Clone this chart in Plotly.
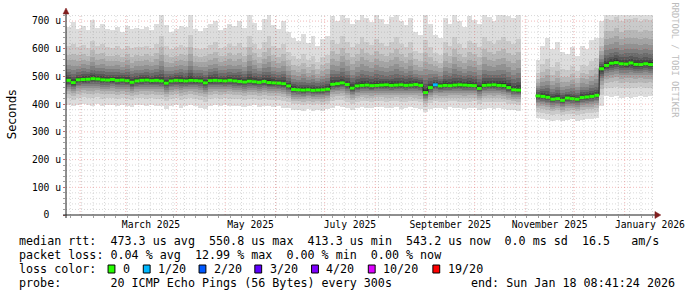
import plotly.graph_objects as go
from datetime import datetime, timedelta

# ---------------- data ----------------
END_TIME = datetime(2026, 1, 18, 8, 41, 24)
SPAN_DAYS = 360
STEP_DAYS = 3
START_TIME = END_TIME - timedelta(days=SPAN_DAYS)

# median RTT per 3-day bin (microseconds); None = no data
rtt_median = [
    486, 478, 488, 489, 490, 492, 491, 488, 487, 489,
    486, 487, 485, 479, 484, 486, 487, 485, 486, 484,
    476, 484, 486, 485, 484, 486, 485, 484, 477, 485,
    486, 485, 484, 486, 484, 482, 480, 483, 481, 479,
    482, 478, 477, 476, 474,
    466,
    453, 452, 451, 452, 450, 451, 452, 454,
    472, 474, 477, 471, 458, 466,
    468, 469, 467, 468, 469, 470, 468, 469, 470, 468, 469, 471, 468,
    442, 460, 470,
    466, 468, 467, 469, 470, 469, 468, 467,
    457,
    468, 469, 470, 468, 467,
    460, 452, 451,
    None, None, None,
    430, 428, 425, 418, 420, 414, 422, 420, 418, 424, 426, 428, 432,
    528, 540,
    548, 550, 546, 545, 549, 544, 543, 546, 543,
]

# lowest ping (bottom of the smoke) per bin
smoke_low = [
    398, 392, 396, 400, 397, 395, 399, 394, 396, 398,
    393, 397, 395, 390, 396, 398, 394, 397, 392, 395,
    384, 393, 396, 386, 395, 398, 394, 388, 383, 394,
    396, 393, 397, 395, 392, 394, 390, 393, 396, 391,
    394, 392, 390, 392, 388,
    385,
    378, 380, 375, 382, 377, 380, 376, 381,
    388, 392, 390, 385, 380, 387,
    390, 388, 386, 391, 389, 385, 388, 390, 384, 387, 389, 386, 383,
    372, 382,
    388, 386, 384, 389, 387, 385, 383, 386, 388,
    380, 384, 386, 382, 385, 383, 378, 380, 376,
    None, None, None,
    350, 346, 343, 340, 344, 338, 342, 345, 340, 343, 347, 345, 350,
    395,
    428, 425, 430, 424, 427, 422, 426, 430, 425, 428,
]

# highest ping (top of the smoke) per bin
smoke_high = [
    680, 695, 672, 684, 668, 705, 676, 690, 672, 668,
    678, 660, 682, 670, 676, 672, 680, 668, 690, 740,
    686, 662, 672, 684, 678, 740, 670, 664, 676, 688,
    702, 668, 674, 690, 682, 700, 676, 740, 694, 668,
    706, 740, 686, 672, 700,
    660,
    640, 628, 652, 620, 645, 610, 635, 648,
    720, 700, 740, 710, 690, 705,
    740, 712, 698, 730, 706, 690, 715, 740, 700, 685, 710, 660, 650,
    740, 690,
    650, 640, 710, 690, 740, 700, 680, 720, 705,
    690, 740, 715, 700, 725, 740, 720, 710, 740,
    None, None, None,
    560, 610, 640, 600, 625, 590, 580, 605, 575, 610, 600, 630, 640,
    700,
    800, 790, 810, 785, 800, 795, 805, 790, 800, 795,
]

# pings lost (of 20) per bin
loss_pings = [0] * len(rtt_median)
loss_pings[75] = 1

# fraction of the median->extreme distance reached by each sorted ping
UPPER_PROFILE = [0.03, 0.06, 0.10, 0.15, 0.21, 0.28, 0.37, 0.48, 0.64, 1.0]  # ping 11..20
LOWER_PROFILE = [0.04, 0.08, 0.13, 0.19, 0.26, 0.34, 0.44, 0.56, 0.72, 1.0]  # ping 10..1

y_tick_values = [0, 100, 200, 300, 400, 500, 600, 700]
y_tick_text = ["0\u00a0\u00a0", "100\u00a0u", "200\u00a0u", "300\u00a0u", "400\u00a0u",
               "500\u00a0u", "600\u00a0u", "700\u00a0u"]
x_label_dates = [datetime(2025, 3, 16, 12), datetime(2025, 5, 16, 12), datetime(2025, 7, 16, 12),
                 datetime(2025, 9, 16), datetime(2025, 11, 16), datetime(2026, 1, 16, 12)]
x_label_text = ["March 2025", "May 2025", "July 2025", "September 2025", "November 2025", "January 2026"]

legend_lines = [
    "median rtt:  473.3 us avg  550.8 us max  413.3 us min  543.2 us now  0.0 ms sd  16.5   am/s",
    "packet loss: 0.04 % avg  12.99 % max  0.00 % min  0.00 % now",
    "loss color:",
    "probe:       20 ICMP Echo Pings (56 Bytes) every 300s",
]
end_text = "end: Sun Jan 18 08:41:24 2026"
loss_labels = ["0", "1/20", "2/20", "3/20", "4/20", "10/20", "19/20"]
loss_colors = ["#26ff00", "#00b8ff", "#0059ff", "#5e00ff", "#7e00ff", "#dd00ff", "#ff0000"]
loss_thresholds = [0, 1, 2, 3, 4, 10, 19]

# ---------------- layout geometry ----------------
W, H = 697, 297
L, R, T, B = 66, 31, 15, 82
PW, PH = W - L - R, H - T - B
Y_MAX = 722


def px(x):
    return (x - L) / PW


def py(y):
    return (T + PH - y) / PH


MONO = "DejaVu Sans Mono"
N = len(rtt_median)
bins = [START_TIME + timedelta(days=STEP_DAYS * k) for k in range(N + 1)]
bin_ms = STEP_DAYS * 86400000

fig = go.Figure()

# smoke bands (outermost/lightest first)
GRAYS = [221, 202, 183, 164, 145, 126, 107, 88, 69, 50]
for ibot in range(1, 11):
    lf = LOWER_PROFILE[10 - ibot]
    uf = UPPER_PROFILE[10 - ibot]
    base, height = [], []
    for m, lo, hi in zip(rtt_median, smoke_low, smoke_high):
        if m is None:
            base.append(None)
            height.append(None)
        else:
            b0 = m - (m - lo) * lf
            b1 = m + (hi - m) * uf
            base.append(b0)
            height.append(b1 - b0)
    g = GRAYS[ibot - 1]
    fig.add_trace(go.Bar(
        x=bins[:N], y=height, base=base, width=[bin_ms] * N, offset=0,
        marker=dict(color=f"rgb({g},{g},{g})", line=dict(width=0)),
        hoverinfo="skip",
    ))

# thin dark median line (with vertical joins)
lx, ly = [], []
for k in range(N):
    m = rtt_median[k]
    if m is None:
        continue
    lx += [bins[k], bins[k + 1]]
    ly += [m, m]
    if k + 1 >= N or rtt_median[k + 1] is None:
        lx.append(None)
        ly.append(None)
fig.add_trace(go.Scatter(x=lx, y=ly, mode="lines", line=dict(color="#202020", width=1),
                         hoverinfo="skip"))


def loss_color(n):
    c = loss_colors[0]
    for t, col in zip(loss_thresholds, loss_colors):
        if n >= t:
            c = col
    return c


segs = {}
for k in range(N):
    m = rtt_median[k]
    if m is None:
        continue
    c = loss_color(loss_pings[k])
    sx, sy = segs.setdefault(c, ([], []))
    sx += [bins[k], bins[k + 1], None]
    sy += [m, m, None]
for c, (sx, sy) in segs.items():
    fig.add_trace(go.Scatter(x=sx, y=sy, mode="lines", line=dict(color=c, width=3),
                             hoverinfo="skip"))

shapes = []
# grid (drawn on top like rrdtool)
minor_grid = "rgba(143,143,143,0.35)"
major_grid = "rgba(222,79,79,0.4)"
GDASH = "1px,2px"
sunday = datetime(2025, 1, 26)
while sunday < END_TIME:
    shapes.append(dict(type="line", xref="x", yref="paper", x0=sunday, x1=sunday, y0=0, y1=1,
                       line=dict(color=minor_grid, width=1, dash=GDASH), layer="above"))
    sunday += timedelta(days=7)
for v in range(20, Y_MAX, 20):
    if v % 100:
        shapes.append(dict(type="line", xref="paper", yref="y", x0=0, x1=1, y0=v, y1=v,
                           line=dict(color=minor_grid, width=1, dash=GDASH), layer="above"))
month_starts = []
yy, mm = 2025, 2
while datetime(yy, mm, 1) < END_TIME:
    month_starts.append(datetime(yy, mm, 1))
    mm += 1
    if mm > 12:
        yy, mm = yy + 1, 1
for d in month_starts:
    shapes.append(dict(type="line", xref="x", yref="paper", x0=d, x1=d, y0=0, y1=1,
                       line=dict(color=major_grid, width=1, dash=GDASH), layer="above"))
for v in y_tick_values[1:]:
    shapes.append(dict(type="line", xref="paper", yref="y", x0=0, x1=1, y0=v, y1=v,
                       line=dict(color=major_grid, width=1, dash=GDASH), layer="above"))

# axes lines and arrows
axis_col = "#1f1f1f"
arrow_col = "#801f1f"
shapes.append(dict(type="line", xref="paper", yref="paper", x0=px(63), x1=px(669), y0=0, y1=0,
                   line=dict(color=axis_col, width=1), layer="above"))
shapes.append(dict(type="line", xref="paper", yref="paper", x0=0, x1=0, y0=py(218), y1=py(13),
                   line=dict(color=axis_col, width=1), layer="above"))
shapes.append(dict(type="path", xref="paper", yref="paper",
                   path=f"M {px(668)} {py(211.5)} L {px(674)} {py(215)} L {px(668)} {py(218.5)} Z",
                   fillcolor=arrow_col, line=dict(color=arrow_col, width=0.5), layer="above"))
shapes.append(dict(type="path", xref="paper", yref="paper",
                   path=f"M {px(63)} {py(14)} L {px(66)} {py(8)} L {px(69)} {py(14)} Z",
                   fillcolor=arrow_col, line=dict(color=arrow_col, width=0.5), layer="above"))

annotations = []
NB = "\u00a0"
FS = 11.7
line_y = [241, 255, 269, 283]
for txt, yv in zip(legend_lines, line_y):
    annotations.append(dict(xref="paper", yref="paper", x=px(16), y=py(yv), xanchor="left",
                            yanchor="middle", showarrow=False, text=txt.replace(" ", NB),
                            font=dict(family=MONO, size=FS, color="black")))
annotations.append(dict(xref="paper", yref="paper", x=px(478), y=py(283), xanchor="left",
                        yanchor="middle", showarrow=False, text=end_text.replace(" ", NB),
                        font=dict(family=MONO, size=FS, color="black")))
box_x = [109, 145, 202, 259, 317, 375, 441]
for bx, lab, col in zip(box_x, loss_labels, loss_colors):
    shapes.append(dict(type="rect", xref="paper", yref="paper", x0=px(bx), x1=px(bx + 7),
                       y0=py(273), y1=py(265), fillcolor=col, line=dict(color="black", width=1)))
    annotations.append(dict(xref="paper", yref="paper", x=px(bx + 13), y=py(269), xanchor="left",
                            yanchor="middle", showarrow=False, text=lab,
                            font=dict(family=MONO, size=FS, color="black")))
annotations.append(dict(xref="paper", yref="paper", x=px(11), y=py(114), showarrow=False,
                        xanchor="center", yanchor="middle",
                        text="Seconds", textangle=-90,
                        font=dict(family="DejaVu Sans", size=11.8, color="black")))
annotations.append(dict(xref="paper", yref="paper", x=px(688), y=py(60), showarrow=False,
                        xanchor="center", yanchor="middle",
                        text="RRDTOOL / TOBI OETIKER", textangle=90,
                        font=dict(family=MONO, size=8.7, color="#bcbcbc")))

fig.update_layout(
    width=W, height=H, margin=dict(l=L, r=R, t=T, b=B, pad=0),
    paper_bgcolor="white", plot_bgcolor="white", showlegend=False,
    barmode="overlay", bargap=0,
    shapes=shapes, annotations=annotations,
    xaxis=dict(type="date", range=[START_TIME, END_TIME], showgrid=False, zeroline=False,
               showline=False, tickmode="array", tickvals=x_label_dates, ticktext=x_label_text,
               ticks="", tickangle=0, ticklabeloverflow="allow", ticklabelstandoff=2,
               tickfont=dict(family=MONO, size=9.7, color="black"),
               minor=dict(tickmode="linear", tick0="2025-01-26", dtick=7 * 86400000,
                          ticks="outside", ticklen=2, tickcolor="#a0a0a0", showgrid=False)),
    yaxis=dict(range=[0, Y_MAX], showgrid=False, zeroline=False, showline=False,
               tickmode="array", tickvals=y_tick_values, ticktext=y_tick_text,
               ticks="outside", ticklen=2, tickcolor="#c07070",
               tickfont=dict(family=MONO, size=9.7, color="black"),
               minor=dict(tickmode="linear", tick0=0, dtick=20, ticks="outside", ticklen=2,
                          tickcolor="#a0a0a0", showgrid=False)),
)

fig.write_html("out.html")
